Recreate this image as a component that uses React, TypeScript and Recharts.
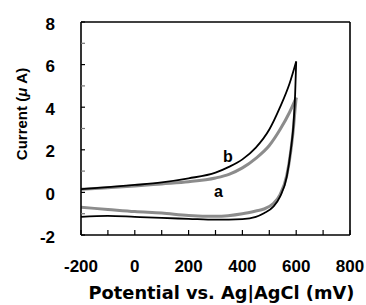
import { LineChart, Line, XAxis, YAxis, ReferenceLine, ReferenceDot, Label } from 'recharts';

// forward scan (-200 -> 600 mV)
const fwdPotential = [-200, -100, 0, 100, 200, 300, 350, 400, 450, 500, 540, 575, 600];
const curveAFwd = [0.15, 0.22, 0.3, 0.4, 0.5, 0.68, 0.85, 1.15, 1.6, 2.2, 2.95, 3.75, 4.45];
const curveBFwd = [0.15, 0.25, 0.35, 0.47, 0.66, 0.93, 1.2, 1.55, 2.1, 2.95, 4.0, 5.1, 6.15];

// reverse scan (600 -> -200 mV), stored in ascending potential
const revPotential = [-200, -100, 0, 100, 200, 300, 400, 450, 480, 515, 540, 565, 580, 590, 596, 600];
const curveARev = [-0.7, -0.8, -0.9, -0.97, -1.08, -1.12, -1.0, -0.87, -0.78, -0.52, -0.1, 0.8, 1.95, 3.05, 3.95, 4.45];
const curveBRev = [-1.15, -1.1, -1.15, -1.2, -1.24, -1.28, -1.25, -1.15, -0.98, -0.67, -0.2, 0.74, 2.0, 3.2, 4.6, 6.15];

const xTicks = [-200, -100, 0, 100, 200, 300, 400, 500, 600, 700, 800];
const yTicks = [-2, -1, 0, 1, 2, 3, 4, 5, 6, 7, 8];

const curveLabels = [
    { name: 'a', x: 311, y: 0.07 },
    { name: 'b', x: 346, y: 1.71 },
];

const toRows = (xs: number[], ys: number[]) => xs.map((x, i) => ({ x, y: ys[i] }));

const armFont = '"Liberation Sans", Arial, sans-serif';
const tickStyle = { fontFamily: armFont, fontWeight: 'bold', fontSize: 17, fill: '#000' };

const XTick = ({ x, y, payload }: any) => (
    <g>
        <line x1={x} x2={x} y1={y} y2={y - 5} stroke="#000" strokeWidth={1.2} />
        {payload.value % 200 === 0 && (
            <text x={x} y={y + 31} textAnchor="middle" dominantBaseline="central" style={tickStyle}>
                {payload.value}
            </text>
        )}
    </g>
);

const YTick = ({ x, y, payload }: any) => (
    <g>
        <line
            x1={x}
            x2={x + 4}
            y1={y}
            y2={y}
            stroke={payload.value % 2 === 0 ? '#000' : '#777'}
            strokeWidth={1.2}
        />
        {payload.value % 2 === 0 && (
            <text x={x - 26} y={y + 2} textAnchor="end" dominantBaseline="central" style={tickStyle}>
                {payload.value}
            </text>
        )}
    </g>
);

export default function App() {
    return (
        <div style={{ position: 'absolute', left: 0, top: 0, background: '#fff' }}>
            <LineChart width={366} height={305} margin={{ top: 22, right: 16, left: 0, bottom: 0 }}>
                <XAxis
                    type="number"
                    dataKey="x"
                    domain={[-200, 800]}
                    ticks={xTicks}
                    interval={0}
                    tick={<XTick />}
                    tickLine={false}
                    tickSize={0}
                    tickMargin={0}
                    height={70}
                    axisLine={{ stroke: '#000', strokeWidth: 1.6 }}
                    allowDataOverflow
                >
                    <Label
                        value="Potential vs. Ag|AgCl (mV)"
                        position="insideBottom"
                        offset={6}
                        dx={6}
                        style={{ fontFamily: '"DejaVu Sans", sans-serif', fontWeight: 'bold', fontSize: 17.8, fill: '#000' }}
                    />
                </XAxis>
                <YAxis
                    type="number"
                    dataKey="y"
                    domain={[-2, 8]}
                    ticks={yTicks}
                    interval={0}
                    tick={<YTick />}
                    tickLine={false}
                    tickSize={0}
                    tickMargin={0}
                    width={81}
                    axisLine={{ stroke: '#000', strokeWidth: 1.6 }}
                    allowDataOverflow
                >
                    <Label
                        content={() => (
                            <text
                                transform="translate(21,114) rotate(-90)"
                                textAnchor="middle"
                                dominantBaseline="central"
                                style={{ fontFamily: armFont, fontWeight: 'bold', fontSize: 15, fill: '#000' }}
                            >
                                Current (<tspan style={{ fontStyle: 'italic' }}>μ</tspan> A)
                            </text>
                        )}
                    />
                </YAxis>
                <ReferenceLine x={800} stroke="#000" strokeWidth={1.6} />
                <ReferenceLine y={8} stroke="#000" strokeWidth={1.6} />
                <Line data={toRows(fwdPotential, curveAFwd)} dataKey="y" type="monotone" stroke="#8c8c8c" strokeWidth={3} dot={false} isAnimationActive={false} />
                <Line data={toRows(revPotential, curveARev)} dataKey="y" type="monotone" stroke="#8c8c8c" strokeWidth={3} dot={false} isAnimationActive={false} />
                <Line data={toRows(fwdPotential, curveBFwd)} dataKey="y" type="monotone" stroke="#000" strokeWidth={1.8} dot={false} isAnimationActive={false} />
                <Line data={toRows(revPotential, curveBRev)} dataKey="y" type="monotone" stroke="#000" strokeWidth={1.8} dot={false} isAnimationActive={false} />
                {curveLabels.map((c) => (
                    <ReferenceDot
                        key={c.name}
                        x={c.x}
                        y={c.y}
                        r={0}
                        stroke="none"
                        label={{ value: c.name, position: 'center', fill: '#000', fontSize: 16, fontWeight: 'bold', fontFamily: armFont }}
                    />
                ))}
            </LineChart>
        </div>
    );
}
